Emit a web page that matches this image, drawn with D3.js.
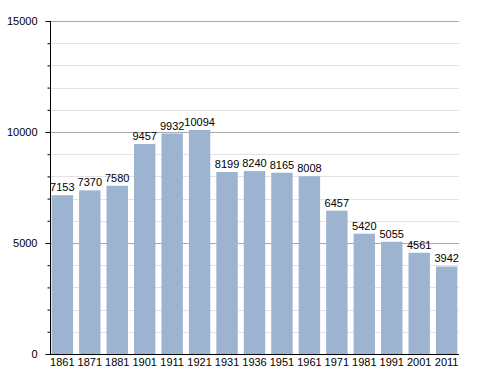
<!DOCTYPE html>
<head>
  <meta charset="utf-8">
  <script src="https://d3js.org/d3.v7.min.js"></script>
  <style>
    body { margin:0; background:#fff; }
    text { font-family: "Liberation Sans", Arial, sans-serif; font-size: 11px; fill: #000; }
  </style>
</head>
<body>
  <script>
    var years = ["1861","1871","1881","1901","1911","1921","1931","1936","1951","1961","1971","1981","1991","2001","2011"];
    var population = [7153, 7370, 7580, 9457, 9932, 10094, 8199, 8240, 8165, 8008, 6457, 5420, 5055, 4561, 3942];
    var yTicks = [0, 5000, 10000, 15000];
    var yMinor = [1000, 2000, 3000, 4000, 6000, 7000, 8000, 9000, 11000, 12000, 13000, 14000];

    var data = years.map(function (y, i) { return {year: y, value: population[i]}; });

    var svg = d3.select("body")
      .append("svg")
      .attr("width", 488)
      .attr("height", 373);

    var x = d3.scaleBand()
      .domain(years)
      .range([50, 459])
      .paddingInner(0.22)
      .paddingOuter(0.06);

    var y = d3.scaleLinear()
      .domain([0, 15000])
      .range([354, 21]);

    // grid lines
    svg.selectAll(".minor")
      .data(yMinor)
      .enter()
      .append("line")
      .attr("x1", 50).attr("x2", 459)
      .attr("y1", function (d) { return Math.round(y(d)) + 0.5; })
      .attr("y2", function (d) { return Math.round(y(d)) + 0.5; })
      .attr("stroke", "#e2e2e2");

    svg.selectAll(".major")
      .data(yTicks.slice(1))
      .enter()
      .append("line")
      .attr("x1", 50).attr("x2", 459)
      .attr("y1", function (d) { return Math.round(y(d)) + 0.5; })
      .attr("y2", function (d) { return Math.round(y(d)) + 0.5; })
      .attr("stroke", "#a8a8a8");

    svg.selectAll(".bar")
      .data(data)
      .enter()
      .append("rect")
      .attr("x", function (d) { return x(d.year); })
      .attr("y", function (d) { return y(d.value); })
      .attr("width", x.bandwidth())
      .attr("height", function (d) { return y(0) - y(d.value); })
      .attr("fill", "#9db4d0");

    svg.selectAll(".val")
      .data(data)
      .enter()
      .append("text")
      .attr("x", function (d) { return x(d.year) + x.bandwidth() / 2; })
      .attr("y", function (d) { return y(d.value) - 4; })
      .attr("text-anchor", "middle")
      .text(function (d) { return d.value; });

    // y axis
    var yAxis = svg.append("g")
      .attr("transform", "translate(50.5,0)")
      .call(d3.axisLeft(y).tickValues(yTicks).tickSize(5).tickPadding(8).tickFormat(d3.format("d")));
    yAxis.select(".domain").attr("stroke", "#000").attr("d", "M0,21V354");
    yAxis.selectAll("text").style("font-size", "11px").style("font-family", "Liberation Sans, Arial, sans-serif");

    svg.append("g")
      .attr("transform", "translate(50.5,0)")
      .call(d3.axisLeft(y).tickValues(yMinor).tickSize(3).tickFormat(""))
      .select(".domain").remove();

    // x axis
    var xAxis = svg.append("g")
      .attr("transform", "translate(0,354.5)")
      .call(d3.axisBottom(x).tickSize(0).tickPadding(4));
    xAxis.select(".domain").attr("d", "M50,0H459").attr("stroke", "#000");
    xAxis.selectAll("text").style("font-size", "11px").style("font-family", "Liberation Sans, Arial, sans-serif");
  </script>
</body>
